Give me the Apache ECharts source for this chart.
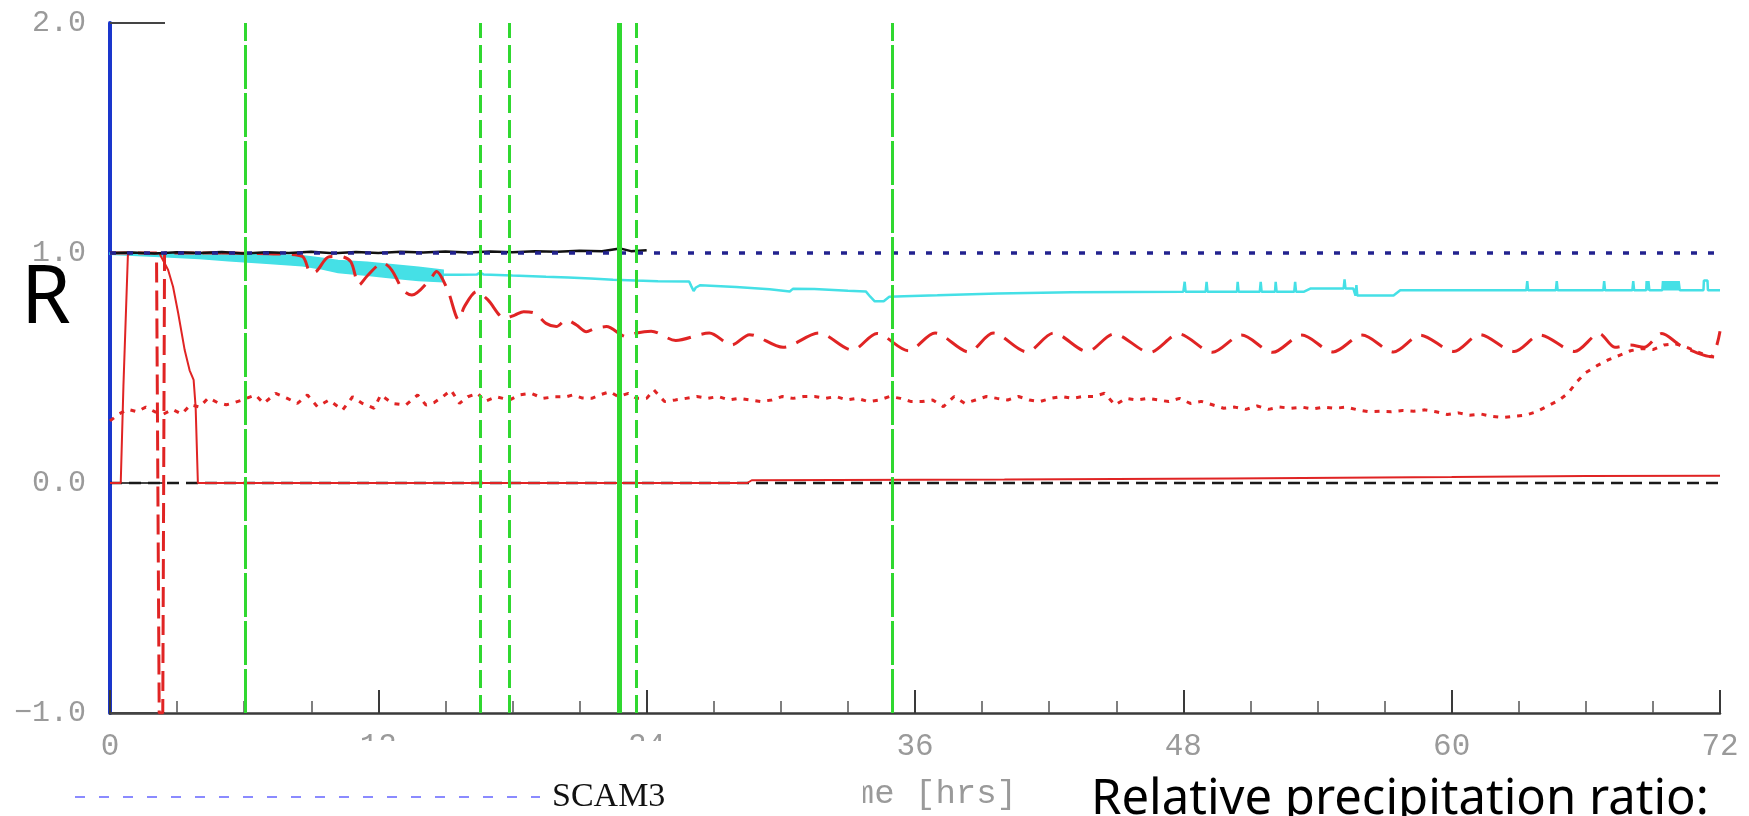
<!DOCTYPE html>
<html>
<head>
<meta charset="utf-8">
<script src="https://cdn.jsdelivr.net/npm/echarts/dist/echarts.min.js"></script>
<style>
html,body{margin:0;padding:0;background:#fff;}
#chart{width:1749px;height:816px;}
</style>
</head>
<body>
<div id="chart"></div>
<script>
// Axis ticks and their labels
const xTickLabels = ['0', '12', '24', '36', '48', '60', '72'];
const yTickValues = [-1, 0, 1, 2];
const yTickLabels = ['\u22121.0', '0.0', '1.0', '2.0'];

// Reference lines [hour, ratio]
const unityLine = [[0, 1], [72, 1]];
const zeroLine = [[0, 0], [72, 0]];

// Black run, only the first day
const blackRun = [[0,1.0],[1,1.002],[2,0.998],[3,1.003],[4,1.0],[5,1.004],[6,0.998],[7,1.003],[8,1.0],[9,1.005],[10,0.999],[11,1.004],[12,1.0],[13,1.005],[14,1.002],[15,1.006],[16,1.002],[17,1.007],[18,1.003],[19,1.008],[20,1.005],[21,1.01],[22,1.008],[22.8,1.02],[23.3,1.008],[24,1.012]];

// Cyan run: early rapidly-flickering envelope, then the single line
const cyanBandHours  = [0, 2, 4, 5.3, 7, 8.6, 9.4, 10.2, 11.5, 12.75, 13.8, 14.9];
const cyanBandTop    = [1.0, 0.999, 0.997, 0.995, 0.993, 0.988, 0.978, 0.967, 0.96, 0.948, 0.938, 0.925];
const cyanBandBottom = [0.994, 0.986, 0.976, 0.966, 0.955, 0.945, 0.932, 0.915, 0.903, 0.89, 0.88, 0.875];
const cyanLine = [[14.9,0.905],[15.6,0.905],[16.4,0.906],[16.55,0.915],[16.7,0.907],[18,0.902],[19.5,0.897],[20.5,0.894],[21.5,0.889],[22.5,0.884],[23.5,0.88],[24.5,0.877],[25.9,0.876],[26.0,0.855],[26.1,0.835],[26.2,0.85],[26.4,0.86],[28,0.852],[29.5,0.842],[30.4,0.833],[30.55,0.845],[31.5,0.843],[33,0.836],[33.8,0.833],[34.0,0.81],[34.2,0.79],[34.6,0.79],[34.85,0.81],[35.5,0.812],[37,0.816],[39.7,0.824],[43,0.829],[48.0,0.832],[48.06,0.875],[48.1,0.832],[49.0,0.832],[49.04,0.875],[49.08,0.832],[50.4,0.832],[50.43,0.875],[50.47,0.832],[51.42,0.832],[51.46,0.875],[51.5,0.832],[52.1,0.832],[52.13,0.875],[52.17,0.832],[52.96,0.832],[53.0,0.875],[53.04,0.832],[53.4,0.832],[53.7,0.846],[55.17,0.846],[55.21,0.885],[55.25,0.846],[55.6,0.846],[55.7,0.815],[55.74,0.86],[55.78,0.815],[57.4,0.815],[57.7,0.838],[63.34,0.838],[63.38,0.878],[63.42,0.838],[64.66,0.838],[64.7,0.878],[64.74,0.838],[66.78,0.838],[66.82,0.878],[66.86,0.838],[68.08,0.838],[68.12,0.878],[68.16,0.838],[68.7,0.838],[68.72,0.878],[68.76,0.838],[68.8,0.878],[68.84,0.838],[69.42,0.838],[69.45,0.878],[69.5,0.838],[69.55,0.878],[69.6,0.838],[69.65,0.878],[69.7,0.838],[69.75,0.878],[69.8,0.838],[69.85,0.878],[69.9,0.838],[69.95,0.878],[70.0,0.838],[70.05,0.878],[70.1,0.838],[70.15,0.878],[70.2,0.838],[71.26,0.838],[71.28,0.88],[71.44,0.88],[71.46,0.838],[72,0.838]];

// Red solid run
const redSolid = [[0,0],[0.48,0],[0.6,0.42],[0.8,0.99],[0.9,1.0],[2.2,1.0],[2.42,0.96],[2.6,0.926],[2.82,0.853],[3.05,0.738],[3.34,0.578],[3.56,0.49],[3.74,0.448],[3.83,0.33],[3.93,0],[28.5,0],[28.7,0.012],[40,0.015],[50,0.02],[60,0.026],[66,0.03],[72,0.032]];

// Red dashed run: the early plunge, then the oscillating decay
const redDashedDrop = [[0,1.0],[2.08,1.0],[2.2,-1.0],[2.36,-1.0],[2.44,1.0],[5,1.0]];
const redDashed = [[5,1.0],[7.5,0.996],[8.6,0.985],[8.98,0.913],[9.23,0.92],[9.8,0.984],[10.3,0.985],[10.77,0.962],[11.14,0.861],[11.5,0.90],[12.2,0.957],[12.6,0.926],[13.1,0.839],[13.5,0.817],[14.3,0.883],[14.6,0.92],[15.1,0.839],[15.6,0.709],[15.85,0.767],[16.4,0.832],[16.9,0.796],[17.65,0.716],[18.1,0.73],[18.5,0.745],[19.0,0.738],[19.5,0.694],[19.96,0.68],[20.4,0.709],[20.86,0.687],[21.3,0.658],[21.7,0.672],[22.2,0.68],[23.1,0.636],[23.55,0.652],[24.2,0.66],[25.3,0.62],[26.8,0.652],[27.8,0.60],[28.6,0.645],[30.1,0.59],[31.7,0.652],[33.2,0.578],[34.3,0.65],[35.7,0.575],[36.9,0.652],[38.4,0.57],[39.5,0.652],[41.0,0.57],[42.2,0.652],[43.7,0.572],[44.9,0.648],[46.5,0.568],[47.8,0.648],[49.3,0.568],[50.6,0.643],[52.0,0.568],[53.3,0.643],[54.7,0.57],[56.0,0.643],[57.4,0.57],[58.6,0.643],[60.1,0.572],[61.25,0.645],[62.8,0.572],[63.95,0.643],[65.5,0.572],[66.6,0.65],[67.3,0.59],[68.0,0.6],[68.6,0.59],[69.4,0.65],[70.2,0.6],[71.0,0.565],[71.6,0.55],[72,0.66]];

// Red dotted run
const redDotted = [[0,0.27],[0.4,0.30],[0.8,0.32],[1.2,0.31],[1.6,0.33],[2.0,0.31],[2.4,0.30],[2.8,0.32],[3.2,0.30],[3.6,0.34],[4.0,0.33],[4.4,0.37],[4.8,0.35],[5.2,0.34],[5.46,0.346],[5.91,0.361],[6.5,0.383],[6.88,0.346],[7.41,0.39],[7.93,0.368],[8.38,0.346],[8.83,0.383],[9.27,0.332],[9.8,0.361],[10.4,0.317],[10.85,0.375],[11.29,0.346],[11.81,0.325],[12.11,0.383],[12.64,0.346],[13.23,0.339],[13.76,0.383],[14.13,0.339],[14.5,0.35],[14.88,0.375],[15.25,0.404],[15.63,0.346],[16.0,0.375],[16.45,0.39],[16.75,0.354],[17.27,0.375],[17.87,0.361],[18.32,0.383],[18.84,0.39],[19.37,0.368],[19.89,0.375],[20.41,0.375],[20.71,0.383],[21.1,0.37],[21.54,0.368],[21.91,0.383],[22.36,0.397],[22.73,0.375],[23.18,0.39],[23.56,0.368],[24.0,0.368],[24.32,0.405],[24.8,0.354],[25.28,0.361],[25.76,0.368],[26.24,0.376],[26.72,0.368],[27.2,0.376],[27.68,0.361],[28.16,0.368],[28.64,0.361],[29.11,0.354],[29.59,0.361],[30.07,0.376],[30.55,0.368],[31.03,0.376],[31.51,0.376],[31.99,0.368],[32.47,0.376],[32.95,0.361],[33.43,0.368],[33.91,0.354],[34.39,0.361],[34.87,0.376],[35.35,0.368],[35.83,0.354],[36.31,0.354],[36.79,0.361],[37.27,0.332],[37.75,0.376],[38.23,0.346],[38.71,0.361],[39.19,0.376],[39.67,0.368],[40.15,0.361],[40.63,0.376],[41.11,0.361],[41.59,0.354],[42.07,0.368],[42.55,0.376],[43.03,0.368],[43.51,0.376],[43.99,0.376],[44.47,0.39],[44.95,0.339],[45.43,0.368],[45.91,0.361],[46.39,0.368],[46.87,0.361],[47.35,0.354],[47.83,0.368],[48.31,0.346],[48.8,0.355],[49.3,0.34],[49.8,0.325],[50.3,0.33],[50.8,0.32],[51.3,0.335],[51.8,0.32],[52.3,0.33],[52.8,0.325],[53.3,0.33],[53.8,0.322],[54.3,0.33],[54.8,0.325],[55.3,0.33],[55.8,0.318],[56.3,0.31],[56.8,0.312],[57.3,0.31],[57.8,0.315],[58.3,0.312],[58.8,0.318],[59.3,0.31],[59.8,0.298],[60.3,0.305],[60.8,0.295],[61.3,0.3],[61.8,0.29],[62.3,0.285],[62.8,0.29],[63.3,0.295],[63.8,0.31],[64.3,0.335],[64.8,0.36],[65.2,0.39],[65.6,0.44],[66.0,0.48],[66.5,0.51],[67.0,0.535],[67.5,0.555],[68.0,0.575],[68.5,0.585],[69.0,0.58],[69.5,0.6],[70.0,0.605],[70.5,0.59],[71.0,0.57],[71.5,0.55],[72.0,0.545]];

// Event markers (hours)
const greenSolidHours = [22.77];
const greenLongDashHours = [6.04, 34.97];
const greenDashHours = [16.57, 17.87, 23.53];

const RED = '#e02424';
const CYAN = '#45e0e6';
const GREEN = '#30d830';
const GRAY = '#9a9a9a';

function run(data, color, width, type, extra) {
  return Object.assign({
    type: 'line', data: data, symbol: 'none', showSymbol: false, silent: true,
    lineStyle: { color: color, width: width, type: type }
  }, extra || {});
}

function markers(hours, width, type) {
  return {
    type: 'line', data: [], silent: true, z: 5,
    markLine: {
      silent: true, symbol: ['none', 'none'], label: { show: false },
      lineStyle: { color: GREEN, width: width, type: type },
      data: hours.map(h => ({ xAxis: h }))
    }
  };
}

// Filled envelope of the cyan run, drawn as one polygon through the axis scales
const cyanEnvelope = {
  type: 'custom', coordinateSystem: 'cartesian2d', silent: true, z: 2,
  data: [[cyanBandHours[0], cyanBandTop[0]]],
  renderItem: function (params, api) {
    const upper = cyanBandHours.map((h, i) => api.coord([h, cyanBandTop[i]]));
    const lower = cyanBandHours.map((h, i) => api.coord([h, cyanBandBottom[i]])).reverse();
    return {
      type: 'polygon',
      shape: { points: upper.concat(lower) },
      style: { fill: CYAN, stroke: CYAN, lineWidth: 1.5 }
    };
  }
};

const chart = echarts.init(document.getElementById('chart'), null, { renderer: 'canvas' });

chart.setOption({
  animation: false,
  backgroundColor: '#ffffff',
  grid: { left: 110, right: 29, top: 23, bottom: 103 },
  xAxis: {
    type: 'value', min: 0, max: 72, interval: 12,
    name: 'Time [hrs]', nameLocation: 'middle', nameGap: 64,
    nameTextStyle: { color: GRAY, fontSize: 34, fontFamily: 'Liberation Mono' },
    axisLine: { show: true, onZero: false, lineStyle: { color: '#3a3a3a', width: 2.5 } },
    axisTick: { show: true, inside: true, length: 23, lineStyle: { color: '#3a3a3a', width: 2 } },
    minorTick: { show: true, splitNumber: 4, length: 12, lineStyle: { color: '#555', width: 1.5 } },
    splitLine: { show: false },
    axisLabel: {
      margin: 18, color: GRAY, fontSize: 31, fontFamily: 'Liberation Mono',
      formatter: v => xTickLabels[Math.round(v / 12)]
    }
  },
  yAxis: {
    type: 'value', min: -1, max: 2, interval: 1,
    axisLine: { show: true, onZero: false, lineStyle: { color: '#1a36cc', width: 4 } },
    axisTick: { show: true, inside: true, length: 55, lineStyle: { color: '#444', width: 2 } },
    splitLine: { show: false },
    axisLabel: {
      margin: 24, color: GRAY, fontSize: 30, fontFamily: 'Liberation Mono',
      formatter: v => yTickLabels[yTickValues.indexOf(Math.round(v))]
    }
  },
  series: [
    cyanEnvelope,
    run(cyanLine, CYAN, 2.5, 'solid', { z: 2 }),
    run(zeroLine, '#1a1a1a', 2.5, [12, 7], { z: 3 }),
    run(redSolid, RED, 2, 'solid', { z: 3 }),
    run(redDotted, RED, 3, [5, 7], { z: 3 }),
    run(redDashedDrop, RED, 3, [20, 8], { z: 3 }),
    run(redDashed, RED, 3, [24, 11], { z: 3, smooth: 0.3 }),
    run(blackRun, '#111', 2.5, 'solid', { z: 4 }),
    run(unityLine, '#22228f', 3.5, [6, 11], { z: 4 }),
    markers(greenLongDashHours, 3, [44, 4]),
    markers(greenDashHours, 3, [18, 7]),
    markers(greenSolidHours, 5, 'solid')
  ],
  graphic: [
    { type: 'rect', z: 100, shape: { x: 128, y: 741, width: 735, height: 75 }, style: { fill: '#ffffff' } },
    { type: 'line', z: 101, shape: { x1: 75, y1: 797, x2: 540, y2: 797 },
      style: { stroke: '#8a8aff', lineWidth: 2, lineDash: [10, 14] } },
    { type: 'text', z: 101, x: 552, y: 797,
      style: { text: 'SCAM3', fontSize: 34, fontFamily: 'Liberation Serif', fill: '#111', verticalAlign: 'middle' } },
    { type: 'text', z: 101, x: 46, y: 300,
      style: { text: 'R', fontSize: 80, fontFamily: 'Noto Sans', fill: '#000', align: 'center', verticalAlign: 'middle' } },
    { type: 'text', z: 101, x: 1091, y: 800,
      style: { text: 'Relative precipitation ratio:', fontSize: 49, fontFamily: 'Noto Sans', fill: '#000', verticalAlign: 'middle' } }
  ]
});
</script>
</body>
</html>
